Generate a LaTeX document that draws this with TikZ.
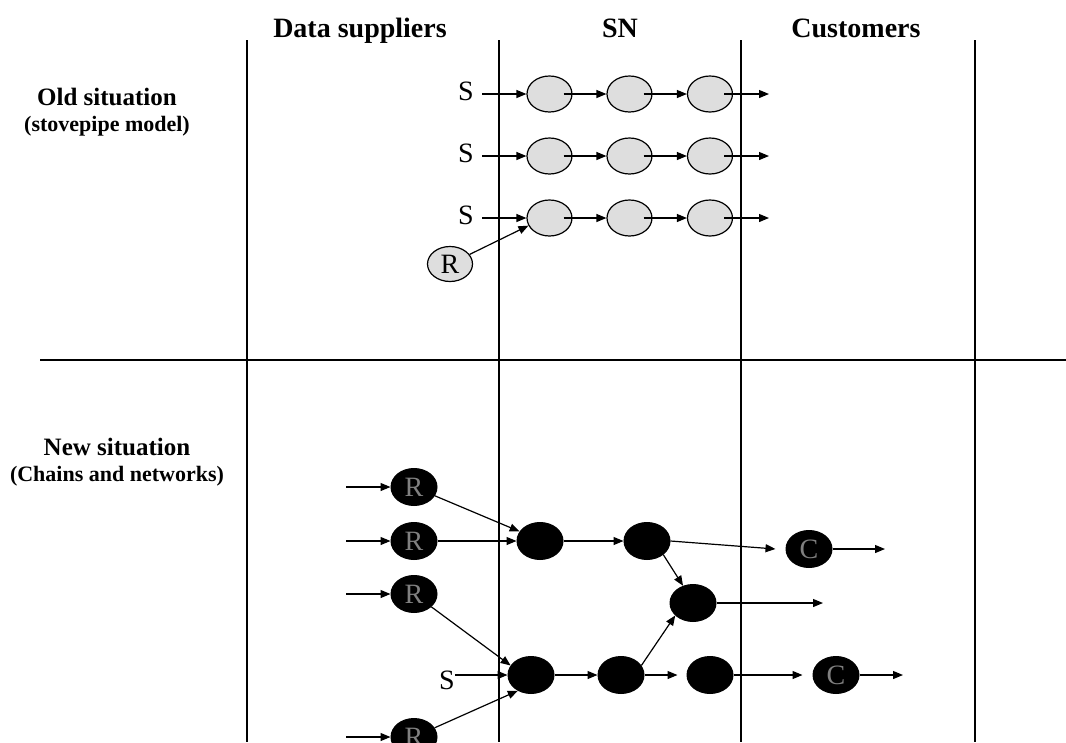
\documentclass[tikz,border=0pt]{standalone}
\usepackage{fontspec}
\setmainfont{Liberation Serif}
\usetikzlibrary{shapes.geometric,arrows.meta}
\begin{document}
\begin{tikzpicture}[x=1pt,y=-1pt,
  frame/.style={line width=1.2pt},
  arr/.style={line width=1.2pt,-{Triangle[length=10pt,width=8pt]}},
  header/.style={font=\fontsize{28}{30}\selectfont\bfseries,anchor=base},
  title/.style={font=\fontsize{25}{27}\selectfont\bfseries,anchor=base},
  subtitle/.style={font=\fontsize{22}{24}\selectfont\bfseries,anchor=base},
  lab/.style={font=\fontsize{28}{30}\selectfont,inner sep=0pt},
  oldnode/.style={ellipse,draw,line width=1.2pt,fill=black!13,minimum width=45pt,minimum height=36pt,inner sep=0pt,font=\fontsize{28}{30}\selectfont},
  newnode/.style={ellipse,fill=black,draw=black,line width=1pt,minimum width=46pt,minimum height=37pt,inner sep=0pt,text=black!50,font=\fontsize{28}{30}\selectfont}]
\clip (0,0) rectangle (1066,742);
\fill[white] (0,0) rectangle (1066,742);
% frame lines
\coordinate (v1t) at (247,40); \coordinate (v1b) at (247,742);
\coordinate (v2t) at (499,40); \coordinate (v2b) at (499,742);
\coordinate (v3t) at (741,40); \coordinate (v3b) at (741,742);
\coordinate (v4t) at (975,40); \coordinate (v4b) at (975,742);
\coordinate (hl) at (40,360); \coordinate (hr) at (1066,360);
\draw[frame] (v1t) -- (v1b);
\draw[frame] (v2t) -- (v2b);
\draw[frame] (v3t) -- (v3b);
\draw[frame] (v4t) -- (v4b);
\draw[frame] (hl) -- (hr);
% headers
\node[header] (h1) at (360,37) {Data suppliers};
\node[header] (h2) at (620,37) {SN};
\node[header] (h3) at (856,37) {Customers};
\node[title] (t1) at (107,105) {Old situation};
\node[subtitle] (s1) at (107,131) {(stovepipe model)};
\node[title] (t2) at (117,455) {New situation};
\node[subtitle] (s2) at (117,481) {(Chains and networks)};
% old situation rows
\foreach \r/\y in {1/94,2/156,3/218}{
  \node[lab] (S\r) at (466,\y-3) {S};
  \node[oldnode] (e\r1) at (549.5,\y) {};
  \node[oldnode] (e\r2) at (629.5,\y) {};
  \node[oldnode] (e\r3) at (710,\y) {};
  \coordinate (o\r) at (769,\y);
  \draw[arr] (482,\y) -- (e\r1.west);
  \draw[arr] ([xshift=14pt]e\r1.center) -- (e\r2.west);
  \draw[arr] ([xshift=14pt]e\r2.center) -- (e\r3.west);
  \draw[arr] ([xshift=14pt]e\r3.center) -- (o\r);
}
\node[oldnode,minimum height=35pt] (R0) at (450,264) {R};
\draw[arr] (R0) -- (e31.200);
% new situation
\node[newnode] (R1) at (414,487) {R};
\node[newnode] (R2) at (414,541) {R};
\node[newnode] (R3) at (414,594) {R};
\node[newnode] (R4) at (414,737) {R};
\foreach \i in {1,2,3,4}{
  \coordinate (in\i) at (346,0 |- R\i);
  \draw[arr] (in\i) -- (R\i.west);
}
\node[newnode] (A) at (540,541) {};
\node[newnode] (D) at (647,541) {};
\node[newnode] (C1) at (809,549) {C};
\node[newnode] (E) at (693,603) {};
\node[newnode] (B) at (531,675) {};
\node[newnode] (F) at (621,675) {};
\node[newnode] (G) at (710,675) {};
\node[newnode] (C2) at (836,675) {C};
\node[lab] (S4) at (447,680) {S};
\coordinate (oc1) at (885,549);
\coordinate (oe) at (823,603);
\coordinate (oc2) at (903,675);
\draw[arr] (R1) -- (A.155);
\draw[arr] (R2) -- (A);
\draw[arr] (R3) -- (B.155);
\draw[arr] (R4) -- (B.230);
\draw[arr] (S4.east |- B.west) -- (B.west);
\draw[arr] (A) -- (D);
\draw[arr] (D.east) -- ([xshift=-10pt]C1.west);
\draw[arr] (C1) -- (oc1);
\draw[arr] (D.-40) -- (E.120);
\draw[arr] (E) -- (oe);
\draw[arr] (B) -- (F);
\draw[arr] (F.east) -- ([xshift=-9pt]G.west);
\draw[arr] (G.east) -- ([xshift=-10pt]C2.west);
\draw[arr] (C2) -- (oc2);
\draw[arr] (F.25) -- (E.215);
\end{tikzpicture}
\end{document}
